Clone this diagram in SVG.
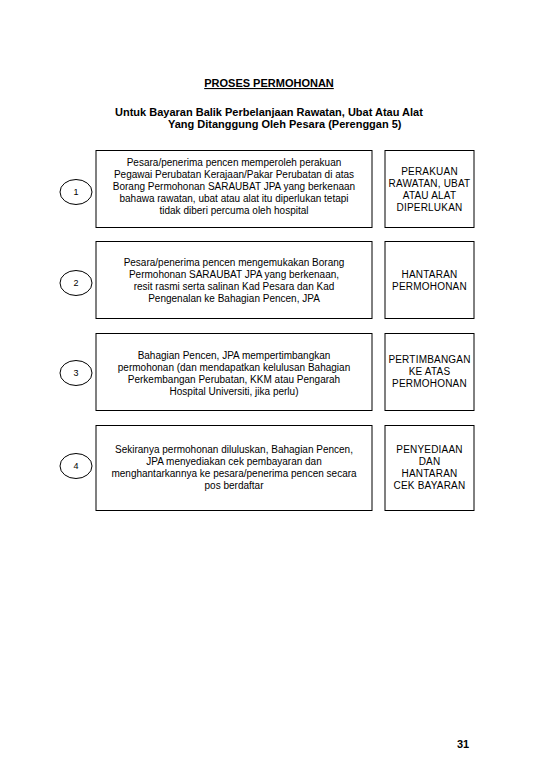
<svg xmlns="http://www.w3.org/2000/svg" width="540" height="780" viewBox="0 0 540 780">
<style>
.bg{fill:#ffffff}
.box{fill:#ffffff;stroke:#000000;stroke-width:1}
.circ{fill:#ffffff;stroke:#000000;stroke-width:1}
.t{font-family:"Liberation Sans",Arial,sans-serif;font-size:10px;fill:#000000;text-anchor:middle}
.r{font-family:"Liberation Sans",Arial,sans-serif;font-size:10px;fill:#000000;text-anchor:middle;letter-spacing:0.2px}
.n{font-family:"Liberation Sans",Arial,sans-serif;font-size:9px;fill:#000000;text-anchor:middle}
.h{font-family:"Liberation Sans",Arial,sans-serif;font-size:11px;font-weight:bold;fill:#000000}
</style>
<rect class="bg" x="0" y="0" width="540" height="780"/>
<g id="title">
<text class="h" x="269" y="87" text-anchor="middle" text-decoration="underline">PROSES PERMOHONAN</text>
<text class="h" x="115" y="116">Untuk Bayaran Balik Perbelanjaan Rawatan, Ubat Atau Alat</text>
<text class="h" x="168" y="128">Yang Ditanggung Oleh Pesara (Perenggan 5)</text>
</g>
<g id="step1">
<ellipse class="circ" cx="76" cy="192" rx="16" ry="12.5"/>
<text class="n" x="76" y="195">1</text>
</g>
<g id="desc1">
<rect class="box" x="96" y="150.5" width="276" height="77"/>
<text class="t" x="234" y="166">Pesara/penerima pencen memperoleh perakuan</text>
<text class="t" x="234" y="178">Pegawai Perubatan Kerajaan/Pakar Perubatan di atas</text>
<text class="t" x="234" y="190">Borang Permohonan SARAUBAT JPA yang berkenaan</text>
<text class="t" x="234" y="202">bahawa rawatan, ubat atau alat itu diperlukan tetapi</text>
<text class="t" x="234" y="214">tidak diberi percuma oleh hospital</text>
</g>
<g id="action1">
<rect class="box" x="385" y="150.5" width="89" height="77"/>
<text class="r" x="429.5" y="175">PERAKUAN</text>
<text class="r" x="429.5" y="187">RAWATAN, UBAT</text>
<text class="r" x="429.5" y="199">ATAU ALAT</text>
<text class="r" x="429.5" y="211">DIPERLUKAN</text>
</g>
<g id="step2">
<ellipse class="circ" cx="76" cy="283" rx="16" ry="12.5"/>
<text class="n" x="76" y="286">2</text>
</g>
<g id="desc2">
<rect class="box" x="96" y="241.5" width="276" height="77"/>
<text class="t" x="234" y="266">Pesara/penerima pencen mengemukakan Borang</text>
<text class="t" x="234" y="278">Permohonan SARAUBAT JPA yang berkenaan,</text>
<text class="t" x="234" y="290">resit rasmi serta salinan Kad Pesara dan Kad</text>
<text class="t" x="234" y="302">Pengenalan ke Bahagian Pencen, JPA</text>
</g>
<g id="action2">
<rect class="box" x="385" y="241.5" width="89" height="77"/>
<text class="r" x="429.5" y="278">HANTARAN</text>
<text class="r" x="429.5" y="290">PERMOHONAN</text>
</g>
<g id="step3">
<ellipse class="circ" cx="76" cy="373" rx="16" ry="12.5"/>
<text class="n" x="76" y="376">3</text>
</g>
<g id="desc3">
<rect class="box" x="96" y="333.5" width="276" height="77"/>
<text class="t" x="234" y="359">Bahagian Pencen, JPA mempertimbangkan</text>
<text class="t" x="234" y="371">permohonan (dan mendapatkan kelulusan Bahagian</text>
<text class="t" x="234" y="383">Perkembangan Perubatan, KKM atau Pengarah</text>
<text class="t" x="234" y="395">Hospital Universiti, jika perlu)</text>
</g>
<g id="action3">
<rect class="box" x="385" y="333.5" width="89" height="77"/>
<text class="r" x="429.5" y="363">PERTIMBANGAN</text>
<text class="r" x="429.5" y="375">KE ATAS</text>
<text class="r" x="429.5" y="387">PERMOHONAN</text>
</g>
<g id="step4">
<ellipse class="circ" cx="76" cy="466" rx="16" ry="12.5"/>
<text class="n" x="76" y="469">4</text>
</g>
<g id="desc4">
<rect class="box" x="96" y="425.5" width="276" height="85"/>
<text class="t" x="234" y="453">Sekiranya permohonan diluluskan, Bahagian Pencen,</text>
<text class="t" x="234" y="465">JPA menyediakan cek pembayaran dan</text>
<text class="t" x="234" y="477">menghantarkannya ke pesara/penerima pencen secara</text>
<text class="t" x="234" y="489">pos berdaftar</text>
</g>
<g id="action4">
<rect class="box" x="385" y="425.5" width="89" height="85"/>
<text class="r" x="429.5" y="453">PENYEDIAAN</text>
<text class="r" x="429.5" y="465">DAN</text>
<text class="r" x="429.5" y="477">HANTARAN</text>
<text class="r" x="429.5" y="489">CEK BAYARAN</text>
</g>
<g id="page">
<text class="h" x="463" y="748" text-anchor="middle" font-size="12px">31</text>
</g>
</svg>
